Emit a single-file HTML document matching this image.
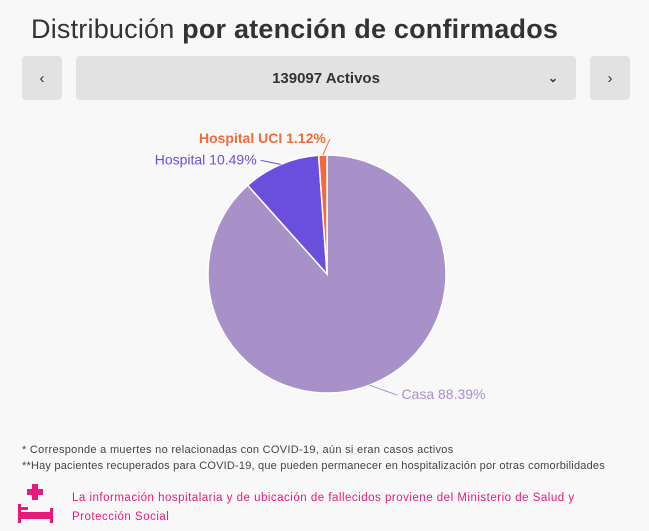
<!DOCTYPE html>
<html><head><meta charset="utf-8"><style>
body{margin:0;width:649px;height:531px;background:#f8f8f8;font-family:"Liberation Sans",sans-serif;position:relative;overflow:hidden}
.t{position:absolute;left:31px;top:14px;font-size:27px;color:#333;letter-spacing:0.2px}
.btn{position:absolute;top:56px;height:44px;background:#e2e2e2;border-radius:4px;color:#333;font-size:15px;display:flex;align-items:center;justify-content:center}
.n{position:absolute;font-size:11px;color:#444;letter-spacing:0.3px;white-space:nowrap}
</style></head><body>
<div class="t">Distribución <b>por atención de confirmados</b></div>
<div class="btn" style="left:22px;width:40px">‹</div>
<div class="btn" style="left:76px;width:500px;font-weight:bold">139097 Activos<span style="position:absolute;right:18px;font-size:12px">⌄</span></div>
<div class="btn" style="left:590px;width:40px">›</div>
<svg id="c" width="649" height="531" style="position:absolute;left:0;top:0"></svg>
<div class="n" style="left:22px;top:444px">* Corresponde a muertes no relacionadas con COVID-19, aún si eran casos activos</div>
<div class="n" style="left:22px;top:460px;letter-spacing:0.2px">**Hay pacientes recuperados para COVID-19, que pueden permanecer en hospitalización por otras comorbilidades</div>
<svg style="position:absolute;left:18px;top:484px" width="36" height="40">
<rect x="14" y="0" width="6" height="16" fill="#e8197a"/><rect x="9" y="5" width="16" height="6" fill="#e8197a"/>
<rect x="0" y="20" width="3" height="19" fill="#e8197a"/><rect x="32" y="24" width="3" height="15" fill="#e8197a"/>
<rect x="3" y="28" width="29" height="7" fill="#e8197a"/><rect x="3" y="23" width="7" height="3" fill="#e8197a"/></svg>
<div class="n" style="left:72px;top:489px;color:#e8197a;font-size:11.5px;letter-spacing:0.5px;line-height:19px">La información hospitalaria y de ubicación de fallecidos proviene del Ministerio de Salud y<br>Protección Social</div>
<script>
const labels=["Casa","Hospital","Hospital UCI"];
const values=[88.39,10.49,1.12];
const colors=["#a890c9","#6a4fdc","#f26a3a"];
const offs=[[32,14,'start'],[-24,0,'end'],[3,-12,'end']];
const svg=document.getElementById('c'),NS="http://www.w3.org/2000/svg";
const cx=327,cy=274,r=119;
const tot=values.reduce((a,b)=>a+b,0);
function pt(f,rr){const a=f*2*Math.PI;return [cx+rr*Math.sin(a),cy-rr*Math.cos(a)];}
let acc=0;
values.forEach((v,i)=>{
 const s=acc/tot,e=(acc+v)/tot;acc+=v;
 const p0=pt(s,r),p1=pt(e,r);
 const p=document.createElementNS(NS,'path');
 p.setAttribute('d',`M${cx},${cy}L${p0[0]},${p0[1]}A${r},${r} 0 ${e-s>0.5?1:0} 1 ${p1[0]},${p1[1]}Z`);
 p.setAttribute('fill',colors[i]);p.setAttribute('stroke','#fff');p.setAttribute('stroke-width','1.5');
 
 
 svg.appendChild(p);
 const m=(s+e)/2,a=pt(m,r);
 const o=offs[i];
 const tx=a[0]+o[0],ty=a[1]+o[1];
 const lx=o[2]==='start'?tx-4:tx+4;
 const l=document.createElementNS(NS,'path');
 l.setAttribute('d',`M${a[0]},${a[1]}L${lx},${ty-4}`);
 l.setAttribute('stroke',colors[i]);l.setAttribute('fill','none');
 svg.appendChild(l);
 const t=document.createElementNS(NS,'text');
 t.setAttribute('x',tx);t.setAttribute('y',ty);
 t.setAttribute('text-anchor',o[2]);
 t.setAttribute('font-size','14');t.setAttribute('fill',colors[i]);
 t.setAttribute('font-weight',i===2?'bold':'normal');
 t.setAttribute('font-family','Liberation Sans, sans-serif');
 t.textContent=labels[i]+' '+v.toFixed(2)+'%';
 
 
 svg.appendChild(t);
});
</script>
</body></html>
